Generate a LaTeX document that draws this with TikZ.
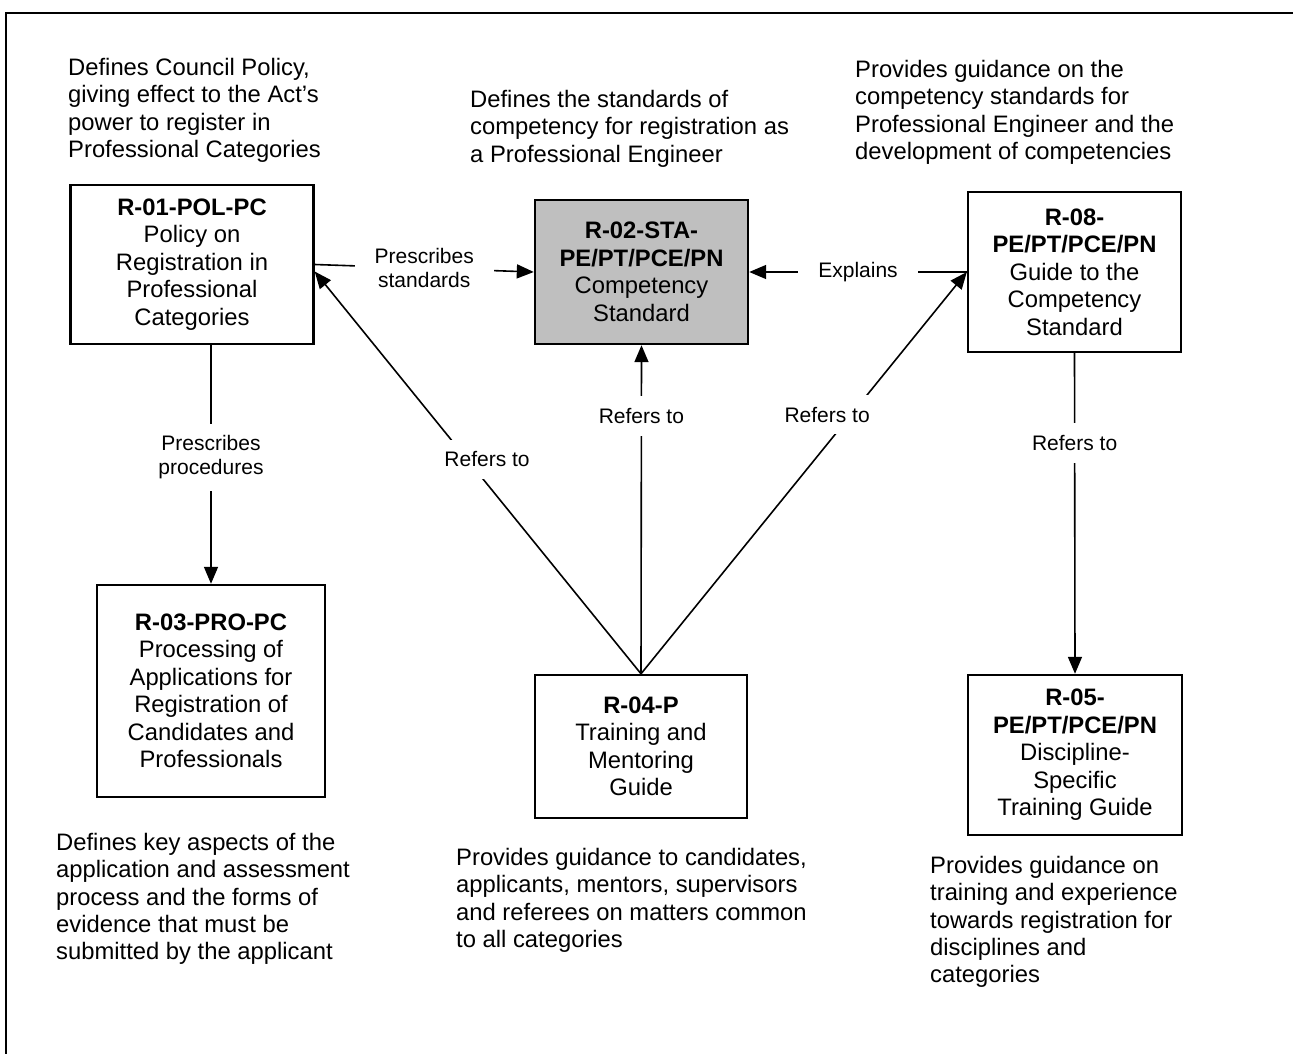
\documentclass[tikz,border=0pt]{standalone}
\usepackage{fontspec}
\setmainfont{Liberation Sans}
\usetikzlibrary{arrows.meta}

\tikzset{
 doc/.style={draw, line width=2.4pt, align=center, inner sep=0pt, font=\fontsize{23.8}{27.5}\selectfont},
 note/.style={anchor=north west, align=left, inner sep=0pt, font=\fontsize{23.8}{27.3}\selectfont},
 lbl/.style={fill=white, align=center, inner xsep=20pt, inner ysep=12pt, font=\fontsize{21}{24}\selectfont},
 arr/.style={line width=1.6pt, -{Triangle[length=17pt,width=14pt]}}
}

\begin{document}
\begin{tikzpicture}[x=1pt,y=-1pt]
\useasboundingbox (0,0) rectangle (1293,1054);
\draw[line width=2pt] (1293,13) -| (6,1054);

 \node[note] (notepol) at (68,58) {Defines Council Policy,\\giving effect to the Act's\\power to register in\\Professional Categories};
 \node[note] (notesta) at (470,90) {Defines the standards of\\competency for registration as\\a Professional Engineer};
 \node[note] (noteguide) at (855,60) {Provides guidance on the\\competency standards for\\Professional Engineer and the\\development of competencies};
 \node[note] (notepro) at (56,833) {Defines key aspects of the\\application and assessment\\process and the forms of\\evidence that must be\\submitted by the applicant};
 \node[note] (notetrain) at (456,848) {Provides guidance to candidates,\\applicants, mentors, supervisors\\and referees on matters common\\to all categories};
 \node[note] (notedisc) at (930,856) {Provides guidance on\\training and experience\\towards registration for\\disciplines and\\categories};

 \node[doc, minimum width=243pt, minimum height=159pt] (pol) at (192,264.5) {\textbf{R-01-POL-PC}\\Policy on\\Registration in\\Professional\\Categories};
 \node[doc, fill=black!25, minimum width=213pt, minimum height=144pt] (sta) at (641.5,272) {\textbf{R-02-STA-}\\\textbf{PE/PT/PCE/PN}\\Competency\\Standard};
 \node[doc, minimum width=213pt, minimum height=160pt] (guide) at (1074.5,272) {\textbf{R-08-}\\\textbf{PE/PT/PCE/PN}\\Guide to the\\Competency\\Standard};
 \node[doc, minimum width=228pt, minimum height=212pt] (pro) at (211,691) {\textbf{R-03-PRO-PC}\\Processing of\\Applications for\\Registration of\\Candidates and\\Professionals};
 \node[doc, minimum width=212pt, minimum height=143pt] (train) at (641,746.5) {\textbf{R-04-P}\\Training and\\Mentoring\\Guide};
 \node[doc, minimum width=214pt, minimum height=160pt] (disc) at (1075,755) {\textbf{R-05-}\\\textbf{PE/PT/PCE/PN}\\Discipline-\\Specific\\Training Guide};

\draw[arr] (pol.east) -- node[lbl]{Prescribes\\standards} (sta.west);
\draw[arr] (guide.west) -- node[lbl]{Explains} (sta.east);
\draw[arr] (pol.south -| pro.north) -- node[lbl, pos=0.47]{Prescribes\\procedures} (pro.north);
\draw[arr] (guide.south) -- node[lbl, pos=0.28]{Refers to} (disc.north);
\draw[arr] (train.north) -- node[lbl, pos=0.785]{Refers to} (sta.south);
\draw[arr] (train.north) -- node[lbl, pos=0.533, xshift=20pt]{Refers to} ([yshift=-7pt]pol.east);
\draw[arr] (train.north) -- node[lbl, pos=0.645, xshift=-24pt]{Refers to} (guide.west);
\end{tikzpicture}
\end{document}
